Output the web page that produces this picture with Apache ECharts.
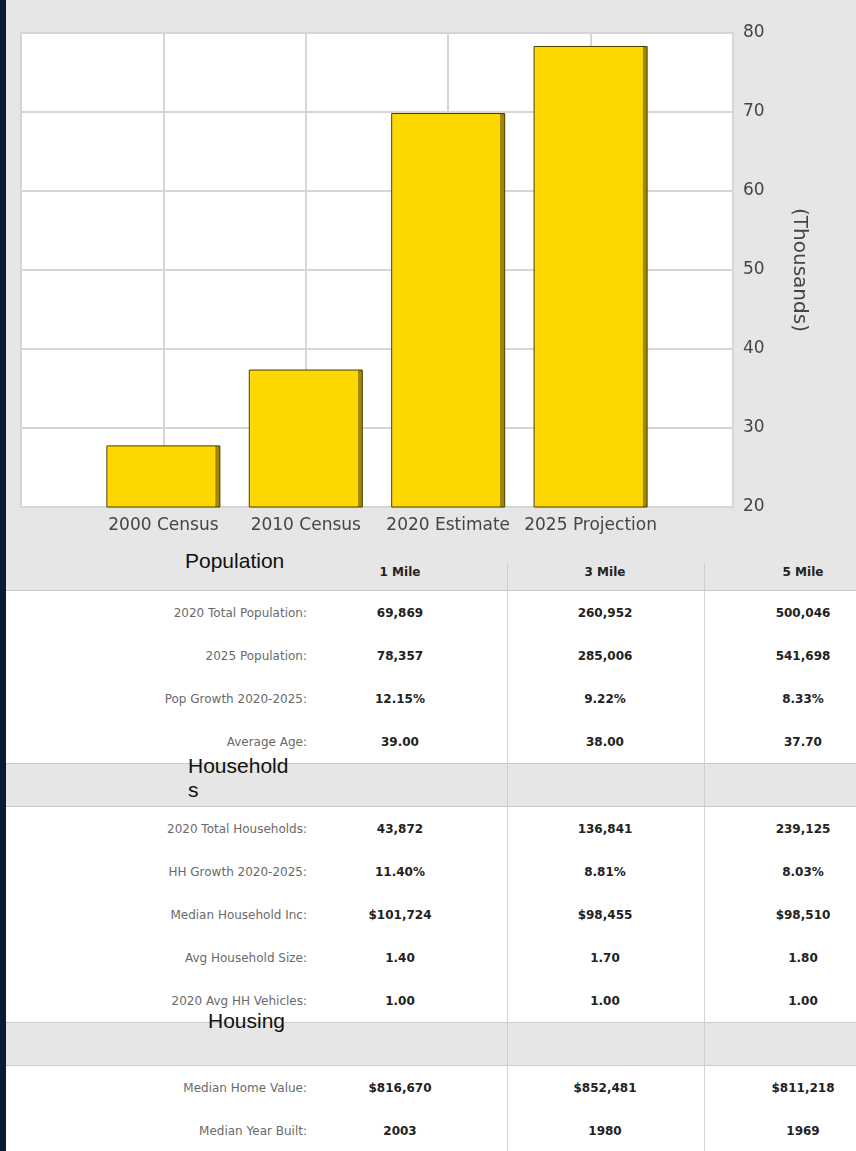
<!DOCTYPE html>
<html>
<head>
<meta charset="utf-8">
<script src="https://cdn.jsdelivr.net/npm/echarts@6/dist/echarts.min.js"></script>
<style>
  html, body { margin: 0; padding: 0; }
  body { width: 856px; height: 1151px; background: #e6e6e6; position: relative; overflow: hidden; }
  #chart { position: absolute; left: 0; top: 0; width: 856px; height: 545px; }
  #strip { position: absolute; left: 0; top: 0; width: 6px; height: 1151px; background: #0b1a33; z-index: 5; }
  .abs { position: absolute; }
  .lbl { font-family: "DejaVu Sans", Verdana, sans-serif; font-size: 12px; color: #6a6a6a; text-align: right; white-space: nowrap; }
  .val { font-family: "DejaVu Sans", Verdana, sans-serif; font-size: 12px; font-weight: bold; color: #222; text-align: center; white-space: nowrap; }
  .sec { font-family: "Liberation Sans", Arial, sans-serif; font-size: 21px; line-height: 24px; color: #111; white-space: nowrap; z-index: 3; }
</style>
</head>
<body>
<div id="chart"></div>
<div id="strip"></div>
<div id="table"></div>
<script>
// chart data
var categories = ['', '2000 Census', '2010 Census', '2020 Estimate', '2025 Projection', ''];
var population = [null, 27.8, 37.4, 69.869, 78.357, null];

// table data
var columns = ['1 Mile', '3 Mile', '5 Mile'];
var popLabels = ['2020 Total Population:', '2025 Population:', 'Pop Growth 2020-2025:', 'Average Age:'];
var popValues = [
  ['69,869', '260,952', '500,046'],
  ['78,357', '285,006', '541,698'],
  ['12.15%', '9.22%', '8.33%'],
  ['39.00', '38.00', '37.70']
];
var hhLabels = ['2020 Total Households:', 'HH Growth 2020-2025:', 'Median Household Inc:', 'Avg Household Size:', '2020 Avg HH Vehicles:'];
var hhValues = [
  ['43,872', '136,841', '239,125'],
  ['11.40%', '8.81%', '8.03%'],
  ['$101,724', '$98,455', '$98,510'],
  ['1.40', '1.70', '1.80'],
  ['1.00', '1.00', '1.00']
];
var housingLabels = ['Median Home Value:', 'Median Year Built:'];
var housingValues = [
  ['$816,670', '$852,481', '$811,218'],
  ['2003', '1980', '1969']
];

var dom = document.getElementById('chart');
var myChart = echarts.init(dom);
var option = {
  backgroundColor: '#e6e6e6',
  animation: false,
  grid: {
    left: 21, right: 123, top: 33, bottom: 38,
    show: true, backgroundColor: '#fff', borderColor: '#cbcbcb', borderWidth: 2
  },
  xAxis: {
    type: 'category',
    data: categories,
    boundaryGap: false,
    axisLine: { show: false },
    axisTick: { show: false },
    axisLabel: {
      interval: 0, margin: 10,
      fontFamily: 'DejaVu Sans', fontSize: 17, color: '#454545'
    },
    splitLine: { show: true, interval: 0, lineStyle: { color: '#d6d6d6', width: 2 } }
  },
  yAxis: {
    type: 'value',
    position: 'right',
    min: 20, max: 80, interval: 10,
    name: '(Thousands)',
    nameLocation: 'middle',
    nameRotate: -90,
    nameGap: 56,
    nameTextStyle: { fontFamily: 'DejaVu Sans', fontSize: 20, color: '#454545' },
    axisLine: { show: false },
    axisTick: { show: false },
    axisLabel: { margin: 10, fontFamily: 'DejaVu Sans', fontSize: 17, color: '#454545' },
    splitLine: { show: true, lineStyle: { color: '#d6d6d6', width: 2 } }
  },
  series: [{
    type: 'bar',
    data: population,
    barWidth: 114,
    itemStyle: {
      color: {
        type: 'linear', x: 0, y: 0, x2: 1, y2: 0,
        colorStops: [
          { offset: 0, color: '#ffe45a' },
          { offset: 0.02, color: '#ffd700' },
          { offset: 0.955, color: '#ffd700' },
          { offset: 0.958, color: '#a08700' },
          { offset: 1, color: '#a08700' }
        ]
      },
      borderColor: '#463c00',
      borderWidth: 1
    }
  }]
};
if (option && typeof option === 'object') {
  myChart.setOption(option);
}

// table
var table = document.getElementById('table');
function box(cls, x, y, w, h, css, text) {
  var d = document.createElement('div');
  d.className = 'abs ' + (cls || '');
  d.style.left = x + 'px'; d.style.top = y + 'px';
  if (w != null) d.style.width = w + 'px';
  if (h != null) d.style.height = h + 'px';
  if (css) d.style.cssText += css;
  if (text != null) d.innerHTML = text;
  table.appendChild(d);
  return d;
}
var colCenters = [400, 605, 803];
var seps = [507, 704];
var rowH = 43;

// header row
box('', 6, 590, 850, 1, 'background:#c9c9c9;');
seps.forEach(function (x) { box('', x, 563, 1, 27, 'background:#cfcfcf;'); });
columns.forEach(function (c, i) {
  box('val', colCenters[i] - 60, 564, 120, 16, 'line-height:16px;', c);
});

function rows(labels, values, top) {
  box('', 6, top, 850, labels.length * rowH, 'background:#fff;');
  seps.forEach(function (x) { box('', x, top, 1, labels.length * rowH, 'background:#d4d4d4;'); });
  labels.forEach(function (l, r) {
    var cy = top + r * rowH + 21.5;
    box('lbl', 107, cy - 8, 200, 16, 'line-height:16px;', l);
    values[r].forEach(function (v, i) {
      box('val', colCenters[i] - 80, cy - 8, 160, 16, 'line-height:16px;', v);
    });
  });
  return top + labels.length * rowH;
}
function band(top) {
  box('', 6, top, 850, 1, 'background:#c9c9c9;');
  seps.forEach(function (x) { box('', x, top, 1, 43, 'background:#cfcfcf;'); });
  box('', 6, top + 43, 850, 1, 'background:#c9c9c9;');
  return top + 44;
}

var y = rows(popLabels, popValues, 591);
var hhTop = y;
y = band(y);
y = rows(hhLabels, hhValues, y);
var housingTop = y;
y = band(y);
y = rows(housingLabels, housingValues, y);

box('sec', 185, 549, null, null, '', 'Population');
box('sec', 188, hhTop - 9, null, null, '', 'Household<br>s');
box('sec', 208, housingTop - 13, null, null, '', 'Housing');
</script>
</body>
</html>
